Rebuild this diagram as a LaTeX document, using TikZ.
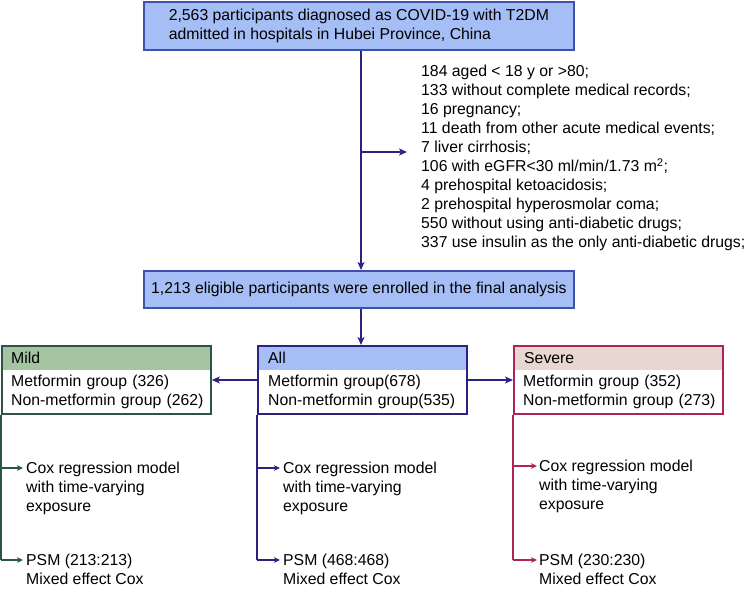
\documentclass[tikz,border=0pt]{standalone}
\usepackage{fontspec}
\setmainfont{Liberation Sans}
\usetikzlibrary{arrows.meta}
\definecolor{boxblue}{RGB}{166,190,246}
\definecolor{bordblue}{RGB}{62,80,172}
\definecolor{navy}{RGB}{44,34,132}
\definecolor{mildfill}{RGB}{164,196,162}
\definecolor{mildline}{RGB}{44,84,72}
\definecolor{sevfill}{RGB}{232,214,208}
\definecolor{sevline}{RGB}{176,34,90}
\begin{document}
\begin{tikzpicture}[x=1pt,y=-1pt,
  font=\fontsize{15.8}{19}\selectfont,
  mainbox/.style={draw=bordblue, fill=boxblue, line width=1.8pt, inner sep=0pt, align=left,
                  minimum width=430pt, anchor=north west},
  grpframe/.style={draw=#1, line width=1.8pt, fill=none, inner sep=0pt,
                   minimum width=209pt, minimum height=68pt, anchor=north west},
  hdr/.style={fill=#1, inner xsep=0pt, inner ysep=0pt, text width=209pt, align=left,
              minimum height=25pt, anchor=north west},
  body/.style={inner xsep=0pt, inner ysep=5pt, text width=200pt, align=left, anchor=north west},
  txt/.style={inner sep=0pt, align=left, anchor=north west},
  conn/.style={draw=#1, line width=1.8pt, -{Stealth[length=8pt,width=7pt,inset=2pt]}},
  seg/.style={draw=#1, line width=1.8pt},
  sconn/.style={draw=#1, line width=1.6pt, -{Stealth[length=6pt,width=5.5pt,inset=1.5pt]}}
]
\useasboundingbox (0,0) rectangle (746,589);

% top box
\node[mainbox, minimum height=48pt, font=\fontsize{15.8}{18.5}\selectfont] (top) at (143,1)
  {2,563 participants diagnosed as COVID-19 with T2DM\\admitted in hospitals in Hubei Province, China};

% eligible box
\node[mainbox, minimum height=37pt, align=center] (elig) at (143,270)
  {1,213 eligible participants were enrolled in the final analysis};

% exclusions
\node[txt] (excl) at (421,65)
  {184 aged < 18 y or >80;\\
   133 without complete medical records;\\
   16 pregnancy;\\
   11 death from other acute medical events;\\
   7 liver cirrhosis;\\
   106 with eGFR<30 ml/min/1.73 m\textsuperscript{2};\\
   4 prehospital ketoacidosis;\\
   2 prehospital hyperosmolar coma;\\
   550 without using anti-diabetic drugs;\\
   337 use insulin as the only anti-diabetic drugs;};

\coordinate (cx) at (361,0);
\coordinate (br) at (361,152);
\coordinate (lvl) at (0,380);

\draw[conn=navy] (top.south -| cx) -- (elig.north -| cx);
\draw[conn=navy, shorten >=14pt] (br) -- (excl.west |- br);

% group headers and bodies
\node[hdr=mildfill] (mildh) at (1,345) {\hspace*{10pt}Mild};
\node[body] (mildb) at (11,370) {Metformin group (326)\\Non-metformin group (262)};
\node[grpframe=mildline] (mild) at (1,345) {};

\node[hdr=boxblue] (allh) at (257,345) {\hspace*{11pt}All};
\node[body] (allb) at (268,370) {Metformin group(678)\\Non-metformin group(535)};
\node[grpframe=navy] (all) at (257,345) {};

\node[hdr=sevfill] (sevh) at (513,345) {\hspace*{11pt}Severe};
\node[body] (sevb) at (523,370) {Metformin group (352)\\Non-metformin group (273)};
\node[grpframe=sevline] (sev) at (513,345) {};

\draw[conn=navy] (elig.south -| cx) -- (all.north -| cx);
\draw[conn=navy] (all.west |- lvl) -- (mild.east |- lvl);
\draw[conn=navy] (all.east |- lvl) -- (sev.west |- lvl);

% analysis texts
\node[txt] (mcox) at (26,462) {Cox regression model\\with time-varying\\exposure};
\node[txt] (mpsm) at (26,554) {PSM (213:213)\\Mixed effect Cox};
\node[txt] (acox) at (283,462) {Cox regression model\\with time-varying\\exposure};
\node[txt] (apsm) at (283,554) {PSM (468:468)\\Mixed effect Cox};
\node[txt] (scox) at (539,460) {Cox regression model\\with time-varying\\exposure};
\node[txt] (spsm) at (539,554) {PSM (230:230)\\Mixed effect Cox};

\coordinate (mca) at (23,468);
\coordinate (mpa) at (23,560);
\coordinate (aca) at (280,468);
\coordinate (apa) at (280,560);
\coordinate (sca) at (537,466);
\coordinate (spa) at (537,560);

\draw[seg=mildline] (mild.south west) -- (mild.south west |- mpa);
\draw[sconn=mildline] (mild.south west |- mca) -- (mca);
\draw[sconn=mildline] (mild.south west |- mpa) -- (mpa);

\draw[seg=navy] (all.south west) -- (all.south west |- apa);
\draw[sconn=navy] (all.south west |- aca) -- (aca);
\draw[sconn=navy] (all.south west |- apa) -- (apa);

\draw[seg=sevline] (sev.south west) -- (sev.south west |- spa);
\draw[sconn=sevline] (sev.south west |- sca) -- (sca);
\draw[sconn=sevline] (sev.south west |- spa) -- (spa);
\end{tikzpicture}
\end{document}
